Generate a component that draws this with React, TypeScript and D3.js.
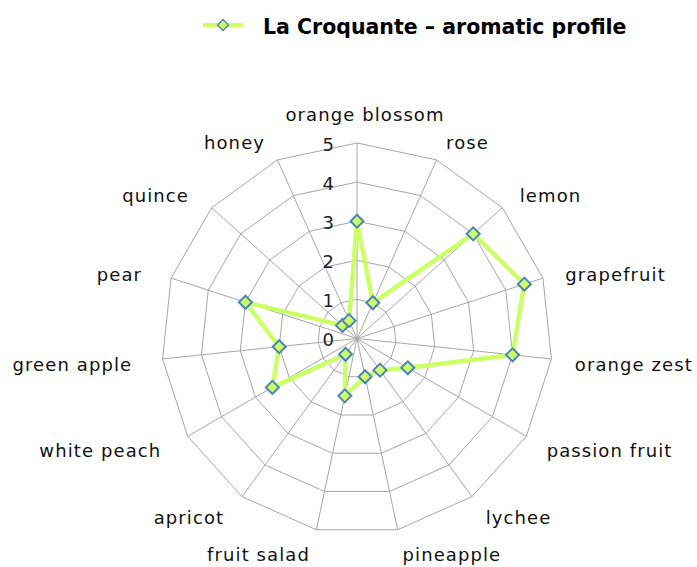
import React from "react";
import * as d3 from "d3";

const categories = [
  "orange blossom", "rose", "lemon", "grapefruit", "orange zest",
  "passion fruit", "lychee", "pineapple", "fruit salad", "apricot",
  "white peach", "green apple", "pear", "quince", "honey",
];
const values = [3, 1, 4, 4.5, 4, 1.5, 1, 1, 1.5, 0.5, 2.5, 2, 3, 0.5, 0.5];
const ticks = [0, 1, 2, 3, 4, 5];
const seriesName = "La Croquante – aromatic profile";

const W = 697, H = 567;
const cx = 357, cy = 338.5, R = 195.5;
const LINE = "#CCFF66";
const MARK_STROKE = "#4F81BD";
const GRID = "#A6A6A6";
const FONT = "'DejaVu Sans', sans-serif";

export default function App() {
  const n = categories.length;
  const r = d3.scaleLinear().domain([0, 5]).range([0, R]);
  const ang = (i: number) => (i * 2 * Math.PI) / n;
  const px = (i: number, v: number) => cx + r(v) * Math.sin(ang(i));
  const py = (i: number, v: number) => cy - r(v) * Math.cos(ang(i));

  const ringLine = d3
    .lineRadial<number>()
    .angle((_, i) => ang(i))
    .radius((d) => r(d))
    .curve(d3.curveLinearClosed);

  const seriesLine = d3
    .lineRadial<number>()
    .angle((_, i) => ang(i))
    .radius((d) => r(d))
    .curve(d3.curveLinearClosed);

  const diamond = (x: number, y: number, s: number) =>
    `M${x},${y - s}L${x + s},${y}L${x},${y + s}L${x - s},${y}Z`;

  return (
    <svg
      width={W}
      height={H}
      style={{ position: "absolute", left: 0, top: 0, background: "#fff" }}
      fontFamily={FONT}
    >
      {/* legend */}
      <g>
        <line x1={203} x2={243} y1={25} y2={25} stroke={LINE} strokeWidth={4} />
        <path d={diamond(223, 25, 5.5)} fill={LINE} stroke={MARK_STROKE} strokeWidth={1.3} />
        <text x={263} y={33.5} fontSize={20.5} fontWeight="bold" fill="#000">
          {seriesName}
        </text>
      </g>

      {/* grid */}
      <g transform={`translate(${cx},${cy})`}>
        {ticks.slice(1).map((t) => (
          <path
            key={t}
            d={ringLine(categories.map(() => t)) || ""}
            fill="none"
            stroke={GRID}
            strokeWidth={1}
          />
        ))}
      </g>
      {categories.map((c, i) => (
        <line
          key={c}
          x1={cx}
          y1={cy}
          x2={px(i, 5)}
          y2={py(i, 5)}
          stroke={GRID}
          strokeWidth={1}
        />
      ))}

      {/* tick labels */}
      {ticks.map((t) => (
        <text
          key={t}
          x={cx - 23}
          y={cy - r(t) + 1}
          textAnchor="end"
          dominantBaseline="central"
          fontSize={18}
          fill="#222"
        >
          {t}
        </text>
      ))}

      {/* category labels */}
      {categories.map((c, i) => {
        const s = Math.sin(ang(i));
        const co = Math.cos(ang(i));
        const anchor = Math.abs(s) < 0.05 ? "middle" : s > 0 ? "start" : "end";
        const rx = s < 0 ? 226 : 219;
        const x = cx + rx * s + (anchor === "middle" ? 8 : 0);
        const y = cy - 218 * co + (anchor === "middle" ? -6 : 3);
        return (
          <text
            key={c}
            x={x}
            y={y}
            textAnchor={anchor}
            dominantBaseline="central"
            fontSize={18}
            letterSpacing={1.1}
            fill="#111"
          >
            {c}
          </text>
        );
      })}

      {/* series */}
      <g transform={`translate(${cx},${cy})`}>
        <path
          d={seriesLine(values) || ""}
          fill="none"
          stroke={LINE}
          strokeWidth={4.5}
          strokeLinejoin="round"
        />
      </g>
      {values.map((v, i) => (
        <path
          key={i}
          d={diamond(px(i, v), py(i, v), 6.5)}
          fill={LINE}
          stroke={MARK_STROKE}
          strokeWidth={2}
        />
      ))}
    </svg>
  );
}
